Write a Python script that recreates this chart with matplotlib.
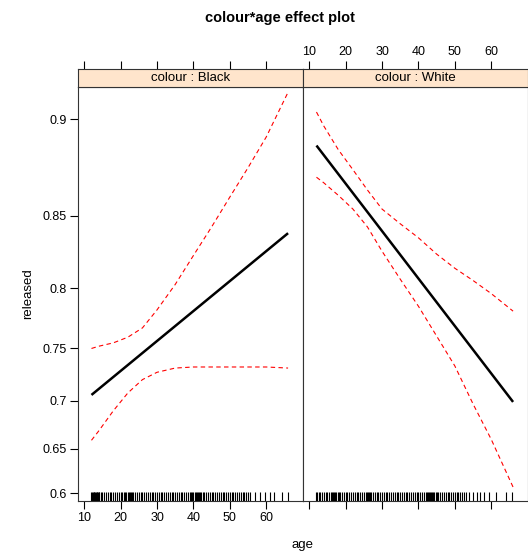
import matplotlib
matplotlib.use("Agg")
import matplotlib.pyplot as plt
from matplotlib.ticker import FixedLocator, NullLocator, FixedFormatter
from matplotlib.patches import Rectangle
import matplotlib.transforms as mtransforms

plt.rcParams["font.family"] = ["Liberation Sans", "DejaVu Sans"]

# -----------------------------
#  DATA
# -----------------------------
panels = ["Black", "White"]

fit_ages = [12, 66]
black_fit = [0.706, 0.839]
white_fit = [0.888, 0.699]

ci_ages = [12, 14, 18, 22, 26, 30, 35, 40, 45, 50, 55, 60, 66]
black_upper = [0.750, 0.752, 0.755, 0.760, 0.768, 0.783, 0.803, 0.824, 0.843, 0.861, 0.877, 0.892, 0.911]
black_lower = [0.659, 0.669, 0.690, 0.708, 0.721, 0.728, 0.732, 0.733, 0.733, 0.733, 0.733, 0.733, 0.732]
white_upper = [0.903, 0.897, 0.886, 0.876, 0.865, 0.854, 0.845, 0.836, 0.825, 0.815, 0.806, 0.796, 0.782]
white_lower = [0.872, 0.869, 0.862, 0.854, 0.843, 0.827, 0.807, 0.786, 0.761, 0.734, 0.697, 0.660, 0.607]

black_rug = [12, 12.2, 12.4, 12.6, 12.8, 13, 13.2, 13.4, 13.6, 13.8, 14, 14.2, 14.5, 15, 15.5,
             16, 16.5, 17, 17.5, 18, 18.5, 19, 19.5, 20, 20.5, 21, 21.3, 21.6, 21.9, 22.2,
             22.5, 22.8, 23.1, 23.4, 24, 24.5, 25, 25.5, 26, 26.5, 27, 27.5, 28, 28.5, 29,
             29.5, 30, 30.5, 31, 31.5, 32, 32.5, 33, 33.5, 34, 34.5, 35, 35.5, 36, 36.5, 37,
             37.5, 38, 38.5, 39, 39.4, 39.7, 40, 40.3, 40.6, 40.9, 41.2, 41.5, 41.8, 42.1,
             42.6, 43, 43.5, 44, 44.5, 45, 45.5, 46, 46.5, 47, 47.5, 48, 48.5, 49, 49.5, 50,
             50.5, 51, 51.5, 52, 52.5, 53, 53.5, 54, 54.5, 55, 55.6, 57, 58.3, 59.7, 61,
             62.2, 64.4, 66]
white_rug = [11.8, 12.2, 12.6, 13, 13.5, 14, 14.5, 15, 15.5, 16, 16.3, 16.6, 16.9, 17.2,
             17.5, 17.8, 18.1, 18.4, 19, 19.5, 20, 20.5, 21, 21.5, 22, 22.5, 23, 23.5, 24,
             24.5, 25, 25.5, 25.8, 26.1, 26.4, 26.7, 27, 27.4, 28, 28.5, 29, 29.5, 30, 30.5,
             31, 31.5, 32, 32.5, 33, 33.5, 34, 34.5, 35, 35.5, 36, 36.5, 37, 37.5, 38, 38.5,
             39, 39.5, 40, 40.5, 41, 41.5, 42, 42.3, 42.6, 42.9, 43.2, 43.5, 43.8, 44.1,
             44.4, 44.7, 45, 45.5, 46, 46.5, 47, 47.5, 48, 48.5, 49, 49.5, 50, 50.5, 51,
             51.5, 52, 52.5, 53, 54, 55, 56, 57, 58, 59.5, 61.3, 64, 65.8]

y_ticks = [0.6, 0.65, 0.7, 0.75, 0.8, 0.85, 0.9]
y_labels = ["0.6", "0.65", "0.7", "0.75", "0.8", "0.85", "0.9"]
x_ticks = [10, 20, 30, 40, 50, 60]

fits = {"Black": black_fit, "White": white_fit}
uppers = {"Black": black_upper, "White": white_upper}
lowers = {"Black": black_lower, "White": white_lower}
rugs = {"Black": black_rug, "White": white_rug}

# -----------------------------
#  LAYOUT (pixels -> fractions)
# -----------------------------
W, H = 528, 554
fig = plt.figure(figsize=(W / 100, H / 100), dpi=100)

px_left, px_top, px_bottom = 78, 87, 501
panel_w = 225
strip_h = 18

for i, name in enumerate(panels):
    x0 = px_left + i * panel_w
    ax = fig.add_axes([x0 / W, (H - px_bottom) / H, panel_w / W, (px_bottom - px_top) / H])
    ax.set_yscale("logit")
    ax.set_xlim(8.3, 70.1)
    ax.set_ylim(0.591, 0.913)

    ax.plot(fit_ages, fits[name], color="black", lw=1.8, solid_capstyle="butt")
    ax.plot(ci_ages, uppers[name], color="red", lw=0.8, dashes=(4, 3))
    ax.plot(ci_ages, lowers[name], color="red", lw=0.8, dashes=(4, 3))

    trans = mtransforms.blended_transform_factory(ax.transData, ax.transAxes)
    ax.vlines(rugs[name], 0.0, 0.022, transform=trans, color="black", lw=0.8)

    ax.yaxis.set_major_locator(FixedLocator(y_ticks))
    ax.yaxis.set_minor_locator(NullLocator())
    ax.yaxis.set_major_formatter(FixedFormatter(y_labels))
    ax.xaxis.set_major_locator(FixedLocator(x_ticks))
    ax.xaxis.set_minor_locator(NullLocator())

    for sp in ax.spines.values():
        sp.set_linewidth(0.8)
        sp.set_color("#333333")

    ax.tick_params(axis="both", direction="out", length=6, width=0.8, labelsize=9,
                   colors="black", pad=2)
    if i == 0:
        ax.tick_params(axis="x", bottom=True, labelbottom=True, top=False)
        ax.tick_params(axis="y", left=True, labelleft=True, right=False)
        ax.set_ylabel("released", fontsize=9.5, labelpad=6)
    else:
        ax.tick_params(axis="x", bottom=True, labelbottom=False, top=False)
        ax.tick_params(axis="y", left=False, labelleft=False, right=True, labelright=False)

    # strip on top with the top-axis ticks
    sax = fig.add_axes([x0 / W, (H - px_top) / H, panel_w / W, strip_h / H])
    sax.set_xlim(8.3, 70.1)
    sax.set_ylim(0, 1)
    sax.add_patch(Rectangle((0, 0), 1, 1, transform=sax.transAxes, facecolor="#ffe5cc",
                            edgecolor="none"))
    sax.text(0.5, 0.5, f"colour : {name}", transform=sax.transAxes, ha="center",
             va="center", fontsize=9.5)
    sax.set_yticks([])
    sax.xaxis.set_major_locator(FixedLocator(x_ticks))
    sax.tick_params(axis="x", direction="out", length=6, width=0.8, labelsize=9,
                    bottom=False, labelbottom=False, top=True, labeltop=(i == 1), pad=2)
    for sp in sax.spines.values():
        sp.set_linewidth(0.8)
        sp.set_color("#333333")

fig.text(280 / W, 1 - 18 / H, "colour*age effect plot", ha="center", va="center",
         fontsize=10.5, fontweight="bold")
fig.text(303 / W, 1 - 545 / H, "age", ha="center", va="center", fontsize=9.5)

fig.savefig("out.png", dpi=100)
